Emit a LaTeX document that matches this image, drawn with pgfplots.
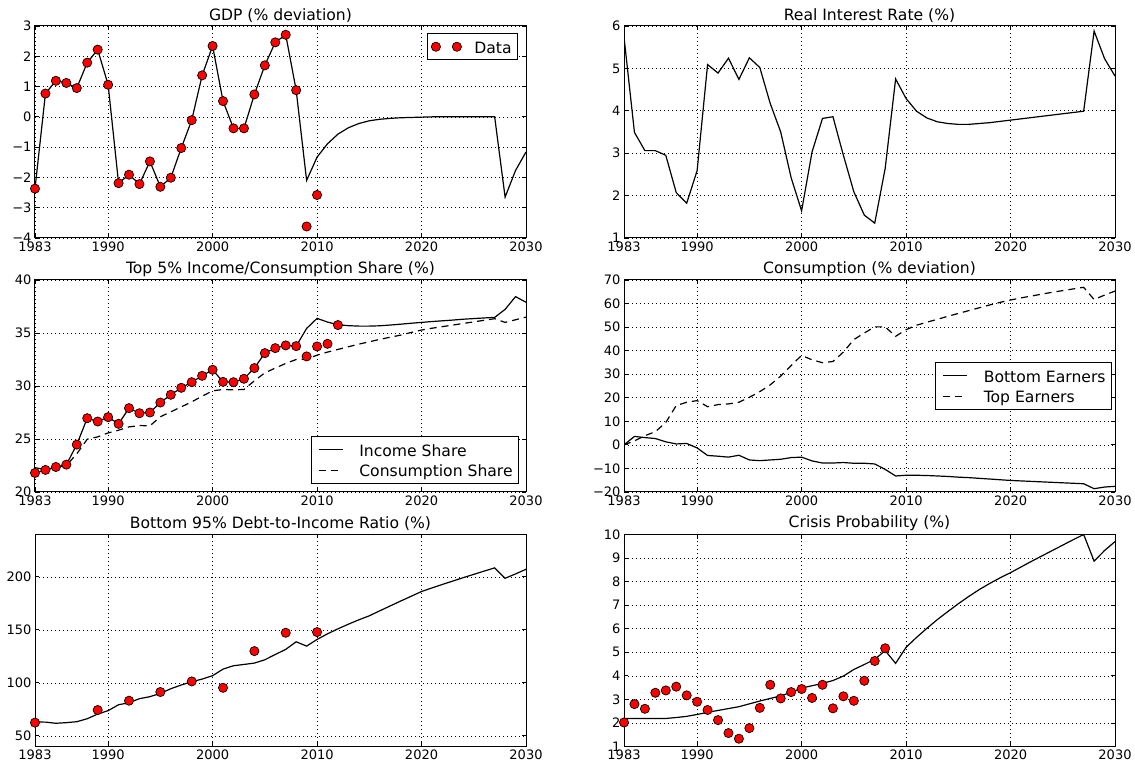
\documentclass[border=0pt]{standalone}
\usepackage{fontspec}
\setmainfont{DejaVu Sans}
\usepackage{pgfplots}
\pgfplotsset{compat=1.18}

\pgfplotsset{
  panel/.style={
    scale only axis, width=491pt, height=212pt, anchor=south west,
    xmin=1983, xmax=2030, xtick={1983,1990,2000,2010,2020,2030},
    /pgf/number format/assume math mode=true,
    /pgf/number format/1000 sep={},
    tick label style={font=\fontsize{13}{15}\selectfont},
    title style={font=\fontsize{15.6}{18}\selectfont, yshift=-6pt},
    grid=major,
    major grid style={black, line width=0.6pt, dash pattern=on 1pt off 3pt},
    axis line style={line width=1pt},
    tick style={black, line width=0.8pt}, major tick length=4pt,
    legend style={font=\fontsize{15.6}{18}\selectfont, draw=black,
      line width=1pt, fill=white, inner xsep=4pt, inner ysep=3pt,
      cells={inner xsep=0pt, inner ysep=0pt, text height=15pt, text depth=7pt},
      row sep=0pt, column sep=0pt},
    legend cell align=left,
  },
  model/.style={black, line width=1.2pt, no marks},
  obs/.style={only marks, mark=*, mark size=4.6pt,
    mark options={fill=red, draw=black, line width=0.7pt}},
  dashd/.style={black, line width=1.2pt, no marks, dash pattern=on 7pt off 5pt},
  linelegend/.style={legend image code/.code={
    \path (-3pt,0pt) (38pt,0pt);
    \draw[##1] (0pt,0pt) -- (24pt,0pt);}},
}

\begin{document}
\begin{tikzpicture}
\useasboundingbox (0,0) rectangle (1135pt,765pt);

% ---------- GDP ----------
\begin{axis}[panel, at={(35pt,527pt)},
  title={GDP (\% deviation)},
  ymin=-4, ymax=3, ytick={-4,-3,-2,-1,0,1,2,3},
  yticklabels={−4,−3,−2,−1,0,1,2,3},
  legend style={at={(0.984,0.967)}, anchor=north east},
  legend image code/.code={\path (-4pt,0pt) (36pt,0pt);
    \draw[#1] plot coordinates {(0pt,0pt) (21pt,0pt)};},
]
\addplot[model, forget plot] coordinates {
(1983,-2.37) (1984,0.77) (1985,1.19) (1986,1.12) (1987,0.95) (1988,1.79)
(1989,2.22) (1990,1.06) (1991,-2.19) (1992,-1.91) (1993,-2.22) (1994,-1.47)
(1995,-2.31) (1996,-2.01) (1997,-1.03) (1998,-0.11) (1999,1.37) (2000,2.34)
(2001,0.52) (2002,-0.38) (2003,-0.38) (2004,0.74) (2005,1.70) (2006,2.46)
(2007,2.71) (2008,0.88) (2009,-2.10) (2010,-1.33) (2011,-0.89) (2012,-0.57)
(2013,-0.36) (2014,-0.22) (2015,-0.13) (2016,-0.08) (2017,-0.05) (2018,-0.03)
(2019,-0.02) (2020,-0.01) (2021,0) (2022,0) (2023,0) (2024,0) (2025,0)
(2026,0) (2027,0) (2028,-2.65) (2029,-1.77) (2030,-1.16)};
\addplot[obs] coordinates {
(1983,-2.37) (1984,0.77) (1985,1.19) (1986,1.12) (1987,0.95) (1988,1.79)
(1989,2.22) (1990,1.06) (1991,-2.19) (1992,-1.91) (1993,-2.22) (1994,-1.47)
(1995,-2.31) (1996,-2.01) (1997,-1.03) (1998,-0.11) (1999,1.37) (2000,2.34)
(2001,0.52) (2002,-0.38) (2003,-0.38) (2004,0.74) (2005,1.70) (2006,2.46)
(2007,2.71) (2008,0.88) (2009,-3.62) (2010,-2.58)};
\addlegendentry{Data}
\end{axis}

% ---------- Real interest rate ----------
\begin{axis}[panel, at={(624pt,527pt)},
  title={Real Interest Rate (\%)},
  ymin=1, ymax=6, ytick={1,2,3,4,5,6},
]
\addplot[model] coordinates {
(1983,5.74) (1984,3.49) (1985,3.06) (1986,3.06) (1987,2.95) (1988,2.07)
(1989,1.82) (1990,2.59) (1991,5.09) (1992,4.89) (1993,5.24) (1994,4.74)
(1995,5.25) (1996,5.02) (1997,4.17) (1998,3.50) (1999,2.42) (2000,1.64)
(2001,3.03) (2002,3.82) (2003,3.86) (2004,2.95) (2005,2.09) (2006,1.54)
(2007,1.35) (2008,2.64) (2009,4.75) (2010,4.29) (2011,3.99) (2012,3.83)
(2013,3.74) (2014,3.70) (2015,3.68) (2016,3.68) (2017,3.70) (2018,3.72)
(2019,3.75) (2020,3.78) (2021,3.81) (2022,3.84) (2023,3.87) (2024,3.90)
(2025,3.93) (2026,3.96) (2027,3.99) (2028,5.88) (2029,5.23) (2030,4.82)};
\end{axis}

% ---------- Top 5% share ----------
\begin{axis}[panel, at={(35pt,273pt)},
  title={Top 5\% Income/Consumption Share (\%)},
  ymin=20, ymax=40, ytick={20,25,30,35,40},
  legend style={at={(0.986,0.038)}, anchor=south east},
  linelegend,
]
\addplot[model] coordinates {
(1983,21.80) (1984,22.08) (1985,22.36) (1986,22.58) (1987,24.47) (1988,26.96)
(1989,26.65) (1990,27.06) (1991,26.43) (1992,27.91) (1993,27.43) (1994,27.50)
(1995,28.44) (1996,29.17) (1997,29.83) (1998,30.36) (1999,30.96) (2000,31.53)
(2001,30.39) (2002,30.36) (2003,30.68) (2004,31.69) (2005,33.10) (2006,33.57)
(2007,33.83) (2008,33.76) (2009,35.43) (2010,36.38) (2011,36.03) (2012,35.78)
(2013,35.69) (2014,35.65) (2015,35.65) (2016,35.68) (2017,35.75) (2018,35.83)
(2019,35.92) (2020,36.00) (2021,36.08) (2022,36.15) (2023,36.22) (2024,36.30)
(2025,36.36) (2026,36.42) (2027,36.47) (2028,37.23) (2029,38.43) (2030,37.90)};
\addlegendentry{Income Share}
\addplot[dashd] coordinates {
(1983,22.30) (1984,22.10) (1985,22.30) (1986,22.50) (1987,23.60) (1988,24.98)
(1989,25.20) (1990,25.57) (1991,25.83) (1992,26.14) (1993,26.27) (1994,26.24)
(1995,27.10) (1996,27.56) (1997,28.03) (1998,28.50) (1999,29.04) (2000,29.54)
(2001,29.67) (2002,29.64) (2003,29.67) (2004,30.49) (2005,31.24) (2006,31.69)
(2007,32.13) (2008,32.50) (2009,32.54) (2010,32.91) (2011,33.20) (2012,33.45)
(2013,33.70) (2014,33.95) (2015,34.17) (2016,34.40) (2017,34.60) (2018,34.80)
(2019,35.05) (2020,35.28) (2021,35.45) (2022,35.60) (2023,35.75) (2024,35.90)
(2025,36.05) (2026,36.20) (2027,36.35) (2028,36.00) (2029,36.25) (2030,36.50)};
\addlegendentry{Consumption Share}
\addplot[obs, forget plot] coordinates {
(1983,21.80) (1984,22.08) (1985,22.36) (1986,22.58) (1987,24.47) (1988,26.96)
(1989,26.65) (1990,27.06) (1991,26.43) (1992,27.91) (1993,27.43) (1994,27.50)
(1995,28.44) (1996,29.17) (1997,29.83) (1998,30.36) (1999,30.96) (2000,31.53)
(2001,30.39) (2002,30.36) (2003,30.68) (2004,31.69) (2005,33.10) (2006,33.57)
(2007,33.83) (2008,33.76) (2009,32.79) (2010,33.73) (2011,33.98) (2012,35.75)};
\end{axis}

% ---------- Consumption ----------
\begin{axis}[panel, at={(624pt,273pt)},
  title={Consumption (\% deviation)},
  ymin=-20, ymax=70, ytick={-20,-10,0,10,20,30,40,50,60,70},
  yticklabels={−20,−10,0,10,20,30,40,50,60,70},
  legend style={at={(0.994,0.5)}, anchor=east},
  linelegend,
]
\addplot[model] coordinates {
(1983,0.0) (1984,3.6) (1985,3.1) (1986,2.7) (1987,1.3) (1988,0.4)
(1989,0.6) (1990,-1.3) (1991,-4.5) (1992,-4.8) (1993,-5.2) (1994,-4.4)
(1995,-6.4) (1996,-6.7) (1997,-6.4) (1998,-6.1) (1999,-5.4) (2000,-5.2)
(2001,-6.8) (2002,-7.7) (2003,-7.7) (2004,-7.5) (2005,-7.8) (2006,-7.8)
(2007,-8.1) (2008,-10.4) (2009,-13.2) (2010,-12.9) (2011,-12.9) (2012,-13.0)
(2013,-13.2) (2014,-13.4) (2015,-13.7) (2016,-13.9) (2017,-14.2) (2018,-14.5)
(2019,-14.8) (2020,-15.1) (2021,-15.3) (2022,-15.5) (2023,-15.7) (2024,-15.9)
(2025,-16.1) (2026,-16.3) (2027,-16.5) (2028,-18.6) (2029,-17.9) (2030,-17.6)};
\addlegendentry{Bottom Earners}
\addplot[dashd] coordinates {
(1983,0.0) (1984,1.7) (1985,3.9) (1986,5.6) (1987,9.5) (1988,16.7)
(1989,18.1) (1990,18.8) (1991,16.2) (1992,17.1) (1993,17.4) (1994,18.1)
(1995,20.2) (1996,22.6) (1997,25.5) (1998,29.2) (1999,33.7) (2000,38.0)
(2001,36.1) (2002,34.9) (2003,35.4) (2004,39.4) (2005,44.7) (2006,47.5)
(2007,50.1) (2008,50.1) (2009,46.1) (2010,48.9) (2011,50.8) (2012,52.1)
(2013,53.3) (2014,54.6) (2015,55.8) (2016,57.0) (2017,58.2) (2018,59.4)
(2019,60.5) (2020,61.5) (2021,62.4) (2022,63.2) (2023,64.0) (2024,64.8)
(2025,65.5) (2026,66.2) (2027,66.9) (2028,61.7) (2029,63.6) (2030,65.3)};
\addlegendentry{Top Earners}
\end{axis}

% ---------- Debt-to-income ----------
\begin{axis}[panel, at={(35pt,18.5pt)},
  title={Bottom 95\% Debt-to-Income Ratio (\%)},
  ymin=40, ymax=240, ytick={50,100,150,200},
]
\addplot[model] coordinates {
(1983,63.1) (1984,63.0) (1985,61.9) (1986,62.5) (1987,63.4) (1988,66.2)
(1989,70.6) (1990,73.8) (1991,79.4) (1992,81.3) (1993,85.1) (1994,87.0)
(1995,90.1) (1996,94.5) (1997,98.0) (1998,101.1) (1999,103.6) (2000,106.8)
(2001,113.0) (2002,116.2) (2003,117.4) (2004,118.7) (2005,121.8) (2006,126.8)
(2007,131.6) (2008,138.8) (2009,134.7) (2010,141.0) (2011,146.3) (2012,151.0)
(2013,155.4) (2014,159.5) (2015,163.3) (2016,168.0) (2017,172.6) (2018,177.2)
(2019,181.7) (2020,186.2) (2021,189.6) (2022,192.9) (2023,196.1) (2024,199.3)
(2025,202.4) (2026,205.5) (2027,208.5) (2028,198.7) (2029,202.8) (2030,207.2)};
\addplot[obs] coordinates {
(1983,62.5) (1989,74.4) (1992,83.2) (1995,91.4) (1998,101.4) (2001,95.4)
(2004,130.0) (2007,147.3) (2010,147.9)};
\end{axis}

% ---------- Crisis probability ----------
\begin{axis}[panel, at={(624pt,18.5pt)},
  title={Crisis Probability (\%)},
  ymin=1, ymax=10, ytick={1,2,3,4,5,6,7,8,9,10},
]
\addplot[model] coordinates {
(1983,2.19) (1984,2.19) (1985,2.19) (1986,2.19) (1987,2.19) (1988,2.23)
(1989,2.28) (1990,2.36) (1991,2.45) (1992,2.53) (1993,2.61) (1994,2.69)
(1995,2.81) (1996,2.93) (1997,3.04) (1998,3.15) (1999,3.30) (2000,3.48)
(2001,3.58) (2002,3.68) (2003,3.80) (2004,3.99) (2005,4.27) (2006,4.48)
(2007,4.70) (2008,5.07) (2009,4.53) (2010,5.21) (2011,5.63) (2012,6.02)
(2013,6.39) (2014,6.73) (2015,7.06) (2016,7.37) (2017,7.66) (2018,7.92)
(2019,8.16) (2020,8.38) (2021,8.62) (2022,8.86) (2023,9.09) (2024,9.32)
(2025,9.55) (2026,9.78) (2027,10.0) (2028,8.87) (2029,9.32) (2030,9.70)};
\addplot[obs] coordinates {
(1983,2.02) (1984,2.80) (1985,2.60) (1986,3.28) (1987,3.38) (1988,3.54)
(1989,3.17) (1990,2.90) (1991,2.55) (1992,2.12) (1993,1.57) (1994,1.33)
(1995,1.78) (1996,2.64) (1997,3.62) (1998,3.04) (1999,3.31) (2000,3.44)
(2001,3.06) (2002,3.62) (2003,2.62) (2004,3.13) (2005,2.94) (2006,3.79)
(2007,4.63) (2008,5.17)};
\end{axis}
\end{tikzpicture}
\end{document}
